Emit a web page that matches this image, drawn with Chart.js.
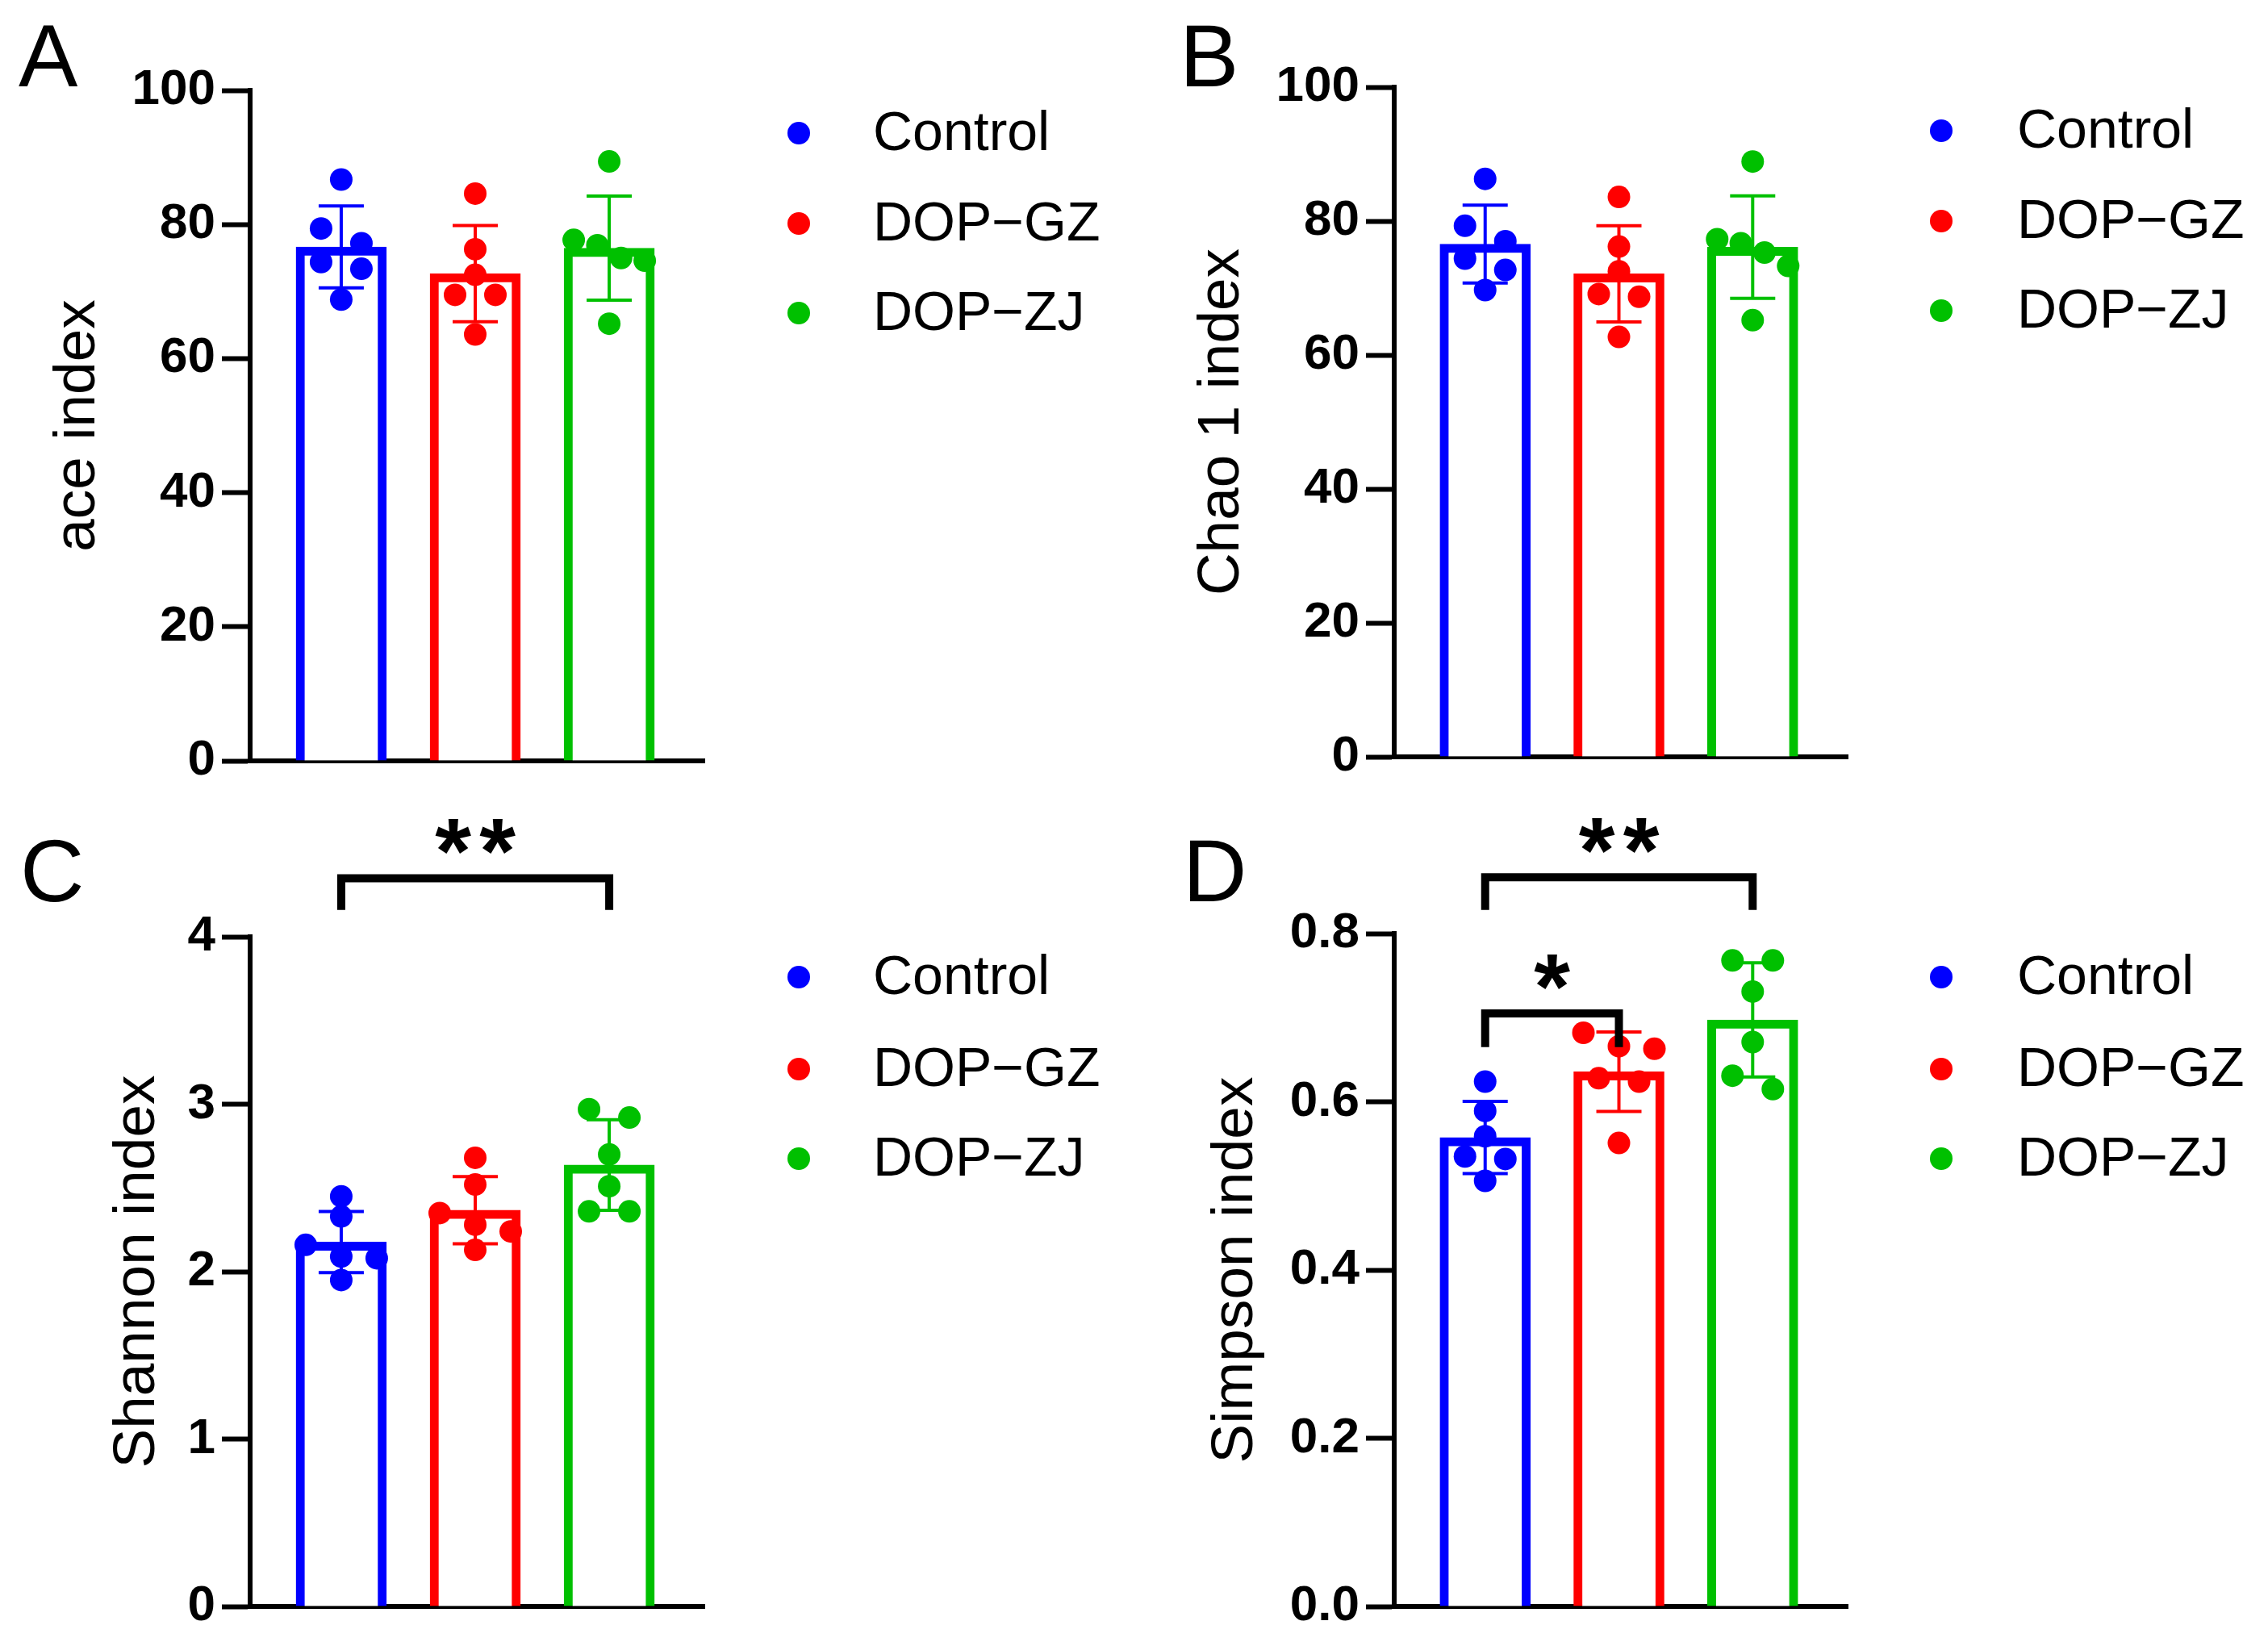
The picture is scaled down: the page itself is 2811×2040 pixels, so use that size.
<!DOCTYPE html>
<html><head>
<meta charset="UTF-8">
<title>Alpha diversity indices</title>
<script src="https://cdn.jsdelivr.net/npm/chart.js"></script>
<style>
  body {
    margin: 0;
    width: 2811px;
    height: 2040px;
    position: relative;
    overflow: hidden;
    background: #fff;
    font-family: 'Liberation Sans', Arial, sans-serif;
  }
  canvas { position: absolute; }
  .letter {
    position: absolute;
    font-size: 110px;
    line-height: 1;
    color: #000;
  }
</style>
</head>
<body>
  <span class="letter" style="left:23px; top:14px;">A</span>
  <span class="letter" style="left:1462px; top:14px;">B</span>
  <span class="letter" style="left:25px; top:1024px;">C</span>
  <span class="letter" style="left:1466px; top:1024px;">D</span>

  <canvas id="chartA" width="1405" height="1000" style="left:0; top:0;"></canvas>
  <canvas id="chartB" width="1393" height="1000" style="left:1418px; top:0;"></canvas>
  <canvas id="chartC" width="1405" height="1040" style="left:0; top:1000px;"></canvas>
  <canvas id="chartD" width="1393" height="1040" style="left:1418px; top:1000px;"></canvas>

<script>
  const groups = ['Control', 'DOP−GZ', 'DOP−ZJ'];
  const colors = ['#0000ff', '#ff0000', '#00c000'];

  // six samples per group
  const aceControl = [86.7, 79.4, 77.2, 74.4, 73.4, 68.8];
  const aceGZ = [84.6, 76.3, 72.5, 69.5, 69.5, 63.6];
  const aceZJ = [89.4, 77.7, 76.9, 75.0, 74.6, 65.2];

  const chaoControl = [86.3, 79.3, 77.0, 74.4, 72.7, 69.7];
  const chaoGZ = [83.6, 76.2, 72.5, 69.1, 68.7, 62.7];
  const chaoZJ = [88.9, 77.3, 76.7, 75.3, 73.3, 65.2];

  const shannonControl = [2.45, 2.33, 2.16, 2.09, 2.08, 1.95];
  const shannonGZ = [2.68, 2.52, 2.35, 2.28, 2.24, 2.13];
  const shannonZJ = [2.97, 2.92, 2.70, 2.51, 2.36, 2.36];

  const simpsonControl = [0.624, 0.589, 0.559, 0.535, 0.532, 0.506];
  const simpsonGZ = [0.682, 0.666, 0.663, 0.628, 0.624, 0.551];
  const simpsonZJ = [0.768, 0.768, 0.731, 0.671, 0.631, 0.615];

  // y axis [min, max, step]
  const aceTicks = [0, 100, 20];
  const chaoTicks = [0, 100, 20];
  const shannonTicks = [0, 4, 1];
  const simpsonTicks = [0, 0.8, 0.2];

  // significance: [from group, to group, label]
  const shannonSig = [[0, 2, '**']];
  const simpsonSig = [[0, 2, '**'], [0, 1, '*']];

  function mean(a) { return a.reduce((s, v) => s + v, 0) / a.length; }
  function sd(a) {
    const m = mean(a);
    return Math.sqrt(a.reduce((s, v) => s + (v - m) * (v - m), 0) / (a.length - 1));
  }

  const dotRadius = 14;

  // error bars, scattered dots, brackets and legend
  const overlay = {
    id: 'overlay',
    afterDatasetsDraw(chart, args, opts) {
      const {ctx, scales: {x, y}} = chart;

      opts.series.forEach((vals, i) => {
        const cx = x.getPixelForValue(i);
        const m = mean(vals), s = sd(vals);
        const yt = y.getPixelForValue(m + s), yb = y.getPixelForValue(m - s);
        ctx.save();
        ctx.strokeStyle = colors[i];
        ctx.lineWidth = 4;
        ctx.beginPath();
        ctx.moveTo(cx, yt); ctx.lineTo(cx, yb);
        ctx.moveTo(cx - 28, yt); ctx.lineTo(cx + 28, yt);
        ctx.moveTo(cx - 28, yb); ctx.lineTo(cx + 28, yb);
        ctx.stroke();

        // points that nearly overlap get spread sideways
        const sorted = vals.slice().sort((a, b) => b - a);
        const clusters = [];
        let cur = [];
        sorted.forEach(v => {
          const py = y.getPixelForValue(v);
          if (cur.length && py - cur[cur.length - 1] >= 21) { clusters.push(cur); cur = []; }
          cur.push(py);
        });
        clusters.push(cur);
        ctx.fillStyle = colors[i];
        clusters.forEach(c => {
          const n = c.length;
          const step = n > 1 ? Math.min(50, 88 / (n - 1)) : 0;
          c.forEach((py, j) => {
            ctx.beginPath();
            ctx.arc(cx + (j - (n - 1) / 2) * step, py, dotRadius, 0, Math.PI * 2);
            ctx.fill();
          });
        });
        ctx.restore();
      });

      // brackets
      (opts.sig || []).forEach((sg, k) => {
        const [a, b, label] = sg;
        const lvl = opts.sigLevels[k];
        const x1 = x.getPixelForValue(a), x2 = x.getPixelForValue(b);
        const yTop = y.getPixelForValue(lvl[0]), yLeg = y.getPixelForValue(lvl[1]);
        ctx.save();
        ctx.strokeStyle = '#000';
        ctx.lineWidth = 10;
        ctx.lineJoin = 'miter';
        ctx.beginPath();
        ctx.moveTo(x1, yLeg); ctx.lineTo(x1, yTop); ctx.lineTo(x2, yTop); ctx.lineTo(x2, yLeg);
        ctx.stroke();
        ctx.fillStyle = '#000';
        ctx.font = "bold 115px 'Liberation Sans', Arial, sans-serif";
        ctx.textAlign = 'center';
        ctx.textBaseline = 'alphabetic';
        const mid = (x1 + x2) / 2;
        const n = label.length;
        for (let j = 0; j < n; j++) {
          ctx.fillText('*', mid + (j - (n - 1) / 2) * 55, yTop + 6);
        }
        ctx.restore();
      });

      // legend
      const L = opts.legend;
      ctx.save();
      ctx.font = "68px 'Liberation Sans', Arial, sans-serif";
      ctx.textBaseline = 'middle';
      ctx.textAlign = 'left';
      groups.forEach((g, i) => {
        const ry = L.rows[i];
        ctx.fillStyle = colors[i];
        ctx.beginPath();
        ctx.arc(L.dotX, ry, dotRadius, 0, Math.PI * 2);
        ctx.fill();
        ctx.fillStyle = '#000';
        ctx.fillText(g, L.textX, ry + 2);
      });
      ctx.restore();
    }
  };

  function makePanel(canvasId, series, ticks, title, cfg) {
    const [yMin, yMax, yStep] = ticks;
    const canvas = document.getElementById(canvasId);
    return new Chart(canvas, {
      type: 'bar',
      data: {
        datasets: [{
          data: series.map((vals, i) => ({x: i, y: mean(vals)})),
          backgroundColor: '#ffffff',
          borderColor: colors,
          borderWidth: 11,
          borderSkipped: 'start',
          barThickness: 112
        }]
      },
      options: {
        responsive: false,
        animation: false,
        events: [],
        layout: {
          padding: {left: 0, top: cfg.top, right: canvas.width - cfg.right, bottom: 0}
        },
        scales: {
          x: {
            type: 'linear',
            min: -0.68,
            max: 2.71,
            offset: false,
            ticks: {display: false},
            grid: {display: false, offset: false},
            border: {display: true, color: '#000', width: 6},
            afterFit: s => { s.height = canvas.height - cfg.bottom; }
          },
          y: {
            min: yMin,
            max: yMax,
            ticks: {
              stepSize: yStep,
              color: '#000',
              padding: 8,
              font: {size: 62, weight: 'bold'},
              callback: v => v.toFixed(cfg.decimals)
            },
            grid: {
              display: true,
              drawOnChartArea: false,
              drawTicks: true,
              tickLength: 35,
              tickWidth: 6,
              tickColor: '#000'
            },
            border: {display: true, color: '#000', width: 6},
            title: {
              display: true,
              text: title,
              color: '#000',
              font: {size: 73},
              padding: {top: cfg.titlePad, bottom: 0}
            },
            afterFit: s => { s.width = 310; }
          }
        },
        plugins: {
          legend: {display: false},
          tooltip: {enabled: false},
          overlay: {
            series: series,
            sig: cfg.sig,
            sigLevels: cfg.sigLevels,
            legend: cfg.legend
          }
        }
      },
      plugins: [overlay]
    });
  }

  Chart.defaults.font.family = "'Liberation Sans', Arial, sans-serif";

  makePanel('chartA', [aceControl, aceGZ, aceZJ], aceTicks, 'ace index', {
    top: 112, bottom: 943, right: 873, titlePad: 53, decimals: 0,
    legend: {dotX: 990, textX: 1082, rows: [165, 277, 388]}
  });
  makePanel('chartB', [chaoControl, chaoGZ, chaoZJ], chaoTicks, 'Chao 1 index', {
    top: 108, bottom: 938, right: 872, titlePad: 53, decimals: 0,
    legend: {dotX: 988, textX: 1082, rows: [162, 274, 385]}
  });
  makePanel('chartC', [shannonControl, shannonGZ, shannonZJ], shannonTicks, 'Shannon index', {
    top: 161, bottom: 991, right: 873, titlePad: 127, decimals: 0,
    sig: shannonSig, sigLevels: [[4.35, 4.16]],
    legend: {dotX: 990, textX: 1082, rows: [211, 325, 436]}
  });
  makePanel('chartD', [simpsonControl, simpsonGZ, simpsonZJ], simpsonTicks, 'Simpson index', {
    top: 157, bottom: 991, right: 872, titlePad: 70, decimals: 1,
    sig: simpsonSig, sigLevels: [[0.867, 0.828], [0.705, 0.665]],
    legend: {dotX: 988, textX: 1082, rows: [211, 325, 436]}
  });
</script>
</body></html>
